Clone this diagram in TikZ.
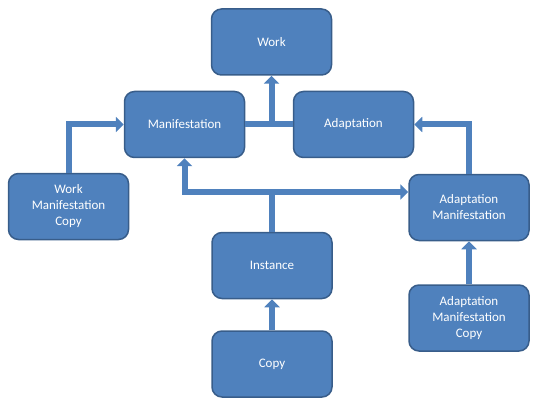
\documentclass[tikz,border=0pt]{standalone}
\usepackage{fontspec}
\setmainfont{Carlito}
\usetikzlibrary{arrows.meta}
\definecolor{boxblue}{HTML}{4F81BD}
\definecolor{boxline}{HTML}{385D8A}
\tikzset{
	entity/.style={draw=boxline, line width=1.5pt, fill=boxblue, rounded corners=10pt,
		minimum width=120pt, minimum height=66pt, text=white, align=center,
		font=\fontsize{13}{16}\selectfont},
	link/.style={draw=boxblue, line width=6pt},
	linkarrow/.style={link, -{Triangle[width=15pt,length=8pt]}}
}
\begin{document}
\begin{tikzpicture}[x=1pt,y=-1pt]
		\useasboundingbox (0,0) rectangle (540,406);
		% boxes
		\node[entity] (work) at (271.5,42) {Work};
		\node[entity] (manif) at (184.5,124.5) {Manifestation};
		\node[entity] (adapt) at (353.5,124.5) {Adaptation};
		\node[entity] (wmc) at (68.5,206.5) {Work\\Manifestation\\Copy};
		\node[entity] (adman) at (469,207.5) {Adaptation\\Manifestation};
		\node[entity] (inst) at (272,265.5) {Instance};
		\node[entity] (copy) at (272,364) {Copy};
		\node[entity] (admancopy) at (469,318) {Adaptation\\Manifestation\\Copy};

		% links
		\draw[link] (manif.east) -- (adapt.west);
		\coordinate (bar) at (work.south |- manif.east);
		\draw[linkarrow] (bar) -- (work.south);
		\draw[linkarrow] (wmc.north) |- (manif.west);
		\draw[linkarrow] (adman.north) |- (adapt.east);
		\draw[linkarrow] (copy.north) -- (inst.south);
		\draw[linkarrow] (admancopy.north) -- (adman.south);

		\coordinate (junc) at (272,192);
		\draw[link] (inst.north) -- (junc);
		\draw[linkarrow] (junc) -| (manif.south);
		\draw[linkarrow] (junc) -- (junc -| adman.west);
	\end{tikzpicture}
\end{document}
